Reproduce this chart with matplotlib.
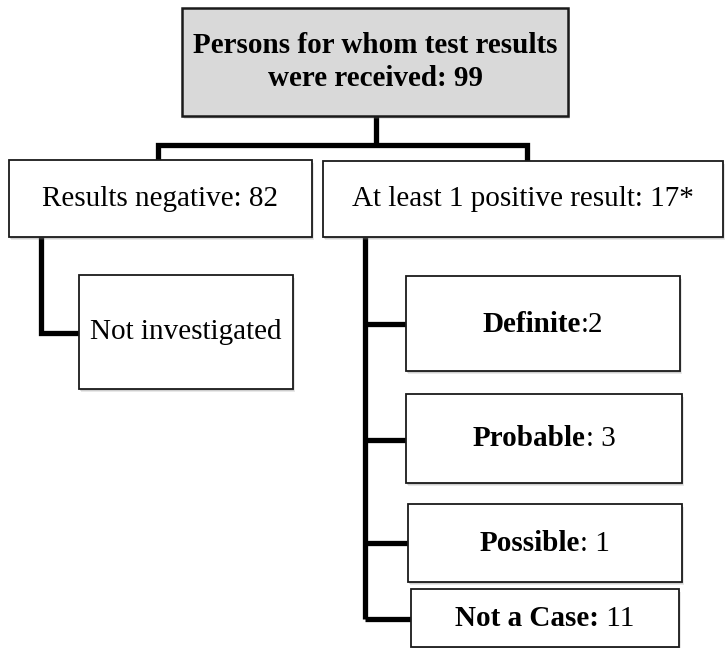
import matplotlib
matplotlib.use("Agg")
import matplotlib.pyplot as plt
from matplotlib.patches import Rectangle

# ---- data ----
top_label = "Persons for whom test results\nwere received: 99"
level1_labels = ["Results negative: 82", "At least 1 positive result: 17*"]
neg_child_label = "Not investigated"
pos_child_bold = ["Definite", "Probable", "Possible", "Not a Case:"]
pos_child_rest = [":2", ": 3", ": 1", " 11"]

# ---- layout (pixels, y downward) ----
W, H = 726, 648
FONT = "Liberation Serif"
FS = 21

top_box = (182, 8, 568, 116)
l1_boxes = [(9, 160, 312, 237), (323, 161, 723, 237)]
neg_box = (79, 275, 293, 389)
pos_boxes = [(406, 276, 680, 371), (406, 394, 682, 483),
             (408, 504, 682, 582), (411, 589, 679, 647)]

fig = plt.figure(figsize=(W / 100, H / 100), dpi=100)
ax = fig.add_axes([0, 0, 1, 1])
ax.set_xlim(0, W)
ax.set_ylim(H, 0)
ax.axis("off")


def draw_box(b, fc="white", lw=1.3):
    x0, y0, x1, y1 = b
    for off, a in [(3, 0.18), (2, 0.25), (1, 0.3)]:
        ax.add_patch(Rectangle((x0 + off * 0.5, y0 + off), x1 - x0, y1 - y0,
                               facecolor="#808080", edgecolor="none", alpha=a, zorder=1))
    ax.add_patch(Rectangle((x0, y0), x1 - x0, y1 - y0, facecolor=fc,
                           edgecolor="#1a1a1a", lw=lw, zorder=2))


def centre(b):
    return (b[0] + b[2]) / 2, (b[1] + b[3]) / 2


LW = 3.8
line_kw = dict(color="black", lw=LW, solid_joinstyle="miter", solid_capstyle="butt", zorder=0.5)

# connectors
ax.plot([376, 376], [116, 145], **line_kw)
ax.plot([158, 158, 527, 527], [160, 145, 145, 161], **line_kw)
ax.plot([41, 41, 79], [237, 333, 333], **line_kw)
branch_y = [324, 440, 543, 619]
ax.plot([365, 365], [237, 619], **line_kw)
for by, b in zip(branch_y, pos_boxes):
    ax.plot([365, b[0]], [by, by], **line_kw)

# boxes
draw_box(top_box, fc="#d9d9d9", lw=1.8)
for b in l1_boxes:
    draw_box(b)
draw_box(neg_box)
for b in pos_boxes:
    draw_box(b)

# texts
cx, cy = centre(top_box)
ax.text(cx, cy, top_label, ha="center", va="center", fontsize=FS,
        fontweight="bold", family=FONT, linespacing=1.3, zorder=3)
for lab, b in zip(level1_labels, l1_boxes):
    cx, cy = centre(b)
    ax.text(cx, cy, lab, ha="center", va="center", fontsize=FS, family=FONT, zorder=3)
cx, cy = centre(neg_box)
ax.text(cx, cy, neg_child_label, ha="center", va="center", fontsize=FS, family=FONT, zorder=3)

fig.canvas.draw()
renderer = fig.canvas.get_renderer()
for bold, rest, b in zip(pos_child_bold, pos_child_rest, pos_boxes):
    cx, cy = centre(b)
    t1 = ax.text(0, cy, bold, ha="left", va="baseline", fontsize=FS,
                 fontweight="bold", family=FONT, zorder=3)
    t2 = ax.text(0, cy, rest, ha="left", va="baseline", fontsize=FS,
                 family=FONT, zorder=3)
    w1 = t1.get_window_extent(renderer).width
    w2 = t2.get_window_extent(renderer).width
    x0 = cx - (w1 + w2) / 2
    base = cy + 8
    t1.set_position((x0, base))
    t2.set_position((x0 + w1, base))

fig.savefig("out.png", dpi=100)
